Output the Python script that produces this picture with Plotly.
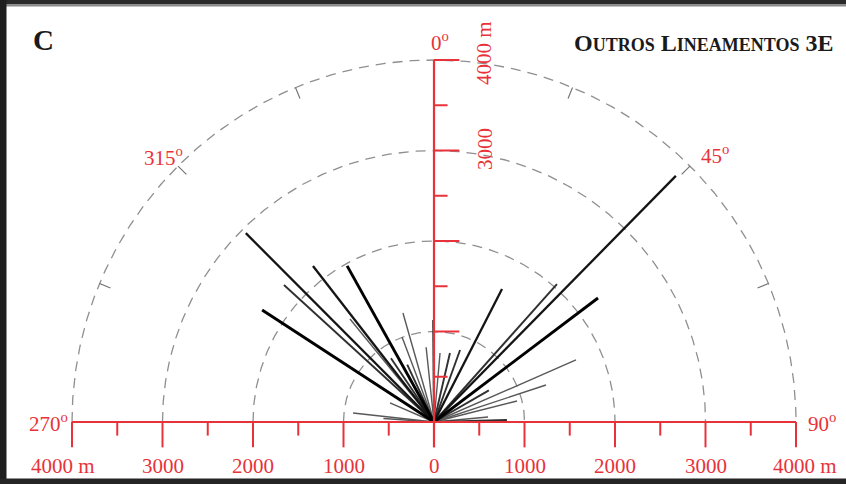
import numpy as np
import plotly.graph_objects as go

# ---------------- data ----------------
# lineament azimuths (degrees, clockwise from N), lengths (m) and relative weight
azimuth  = [315.1, 303.1, 322.2, 330.9, 312.4, 320.8, 344.1, 339.4, 354.0, 359.5,
            276.3, 293.4, 274.0, 335.0, 326.0,
            44.5, 52.9, 41.7, 27.1, 66.4, 71.7, 75.8, 84.7, 88.4, 19.9, 13.0, 5.0, 60.0]
length_m = [2946, 2267, 2182, 1974, 2245, 1469, 1252, 1004, 831, 1127,
            900, 530, 560, 700, 850,
            3813, 2272, 2042, 1650, 1712, 1303, 946, 600, 806, 846, 783, 766, 700]
weight   = [3, 4, 3, 4, 2, 1, 1, 1, 1, 2,
            1, 1, 1, 2, 2,
            3, 4, 2, 3, 1, 1, 1, 1, 2, 2, 2, 1, 2]

ring_radii = [1000, 2000, 3000, 4000]
ring_tick_angles = [-67.5, -45, -22.5, 22.5, 45, 67.5]
scale_major = [-4000, -3000, -2000, -1000, 0, 1000, 2000, 3000, 4000]
scale_minor = [-3500, -2500, -1500, -500, 500, 1500, 2500, 3500]
scale_labels = ["4000 m", "3000", "2000", "1000", "0", "1000", "2000", "3000", "4000 m"]
vert_major = [1000, 2000, 3000, 4000]
vert_minor = [500, 1500, 2500, 3500]
angle_marks = [-90, -45, 0, 45, 90]
angle_labels = ["270", "315", "0", "45", "90"]

RED = "#e8323a"
FONT = "Liberation Serif, Times New Roman, serif"

# pixel geometry helpers (page 846x484, origin at px (434,422), 90.5 px per 1000 m)
W, H = 846, 484
OX, OY, PPK = 434, 422, 90.5
M_PER_PX = 1000 / PPK
x_range = [-OX * M_PER_PX, (W - OX) * M_PER_PX]
y_range = [-(H - OY) * M_PER_PX, OY * M_PER_PX]

fig = go.Figure()

# dashed rings
for r in ring_radii:
    t = np.radians(np.linspace(-90, 90, 361))
    fig.add_trace(go.Scatter(x=r * np.sin(t), y=r * np.cos(t), mode="lines",
                             line=dict(color="#8f8f8f", width=1.3, dash="10px,7px"),
                             hoverinfo="skip", showlegend=False))
# ticks on outer ring
R = ring_radii[-1]
for a in ring_tick_angles:
    t = np.radians(a)
    rr = np.array([R - 130, R])
    fig.add_trace(go.Scatter(x=rr * np.sin(t), y=rr * np.cos(t), mode="lines",
                             line=dict(color="#6e6e6e", width=1.1),
                             hoverinfo="skip", showlegend=False))

# lineaments
style = {1: ("#585858", 1.4), 2: ("#303030", 1.9), 3: ("#141414", 2.3), 4: ("#000000", 2.9)}
order = np.argsort(weight, kind="stable")
for i in order:
    t = np.radians(azimuth[i])
    L = length_m[i]
    c, w = style[weight[i]]
    fig.add_trace(go.Scatter(x=[0, L * np.sin(t)], y=[0, L * np.cos(t)], mode="lines",
                             line=dict(color=c, width=w), hoverinfo="skip", showlegend=False))

# red scale axes
maj_len = 280
min_len = 150
fig.add_trace(go.Scatter(x=[scale_major[0], scale_major[-1]], y=[0, 0], mode="lines",
                         line=dict(color=RED, width=2.2), hoverinfo="skip", showlegend=False))
fig.add_trace(go.Scatter(x=[0, 0], y=[-maj_len, vert_major[-1]], mode="lines",
                         line=dict(color=RED, width=2.2), hoverinfo="skip", showlegend=False))
for v in scale_major:
    fig.add_trace(go.Scatter(x=[v, v], y=[0, -maj_len], mode="lines",
                             line=dict(color=RED, width=2), hoverinfo="skip", showlegend=False))
for v in scale_minor:
    fig.add_trace(go.Scatter(x=[v, v], y=[0, -min_len], mode="lines",
                             line=dict(color=RED, width=2), hoverinfo="skip", showlegend=False))
for v in vert_major:
    fig.add_trace(go.Scatter(x=[0, maj_len], y=[v, v], mode="lines",
                             line=dict(color=RED, width=2), hoverinfo="skip", showlegend=False))
for v in vert_minor:
    fig.add_trace(go.Scatter(x=[0, min_len], y=[v, v], mode="lines",
                             line=dict(color=RED, width=2), hoverinfo="skip", showlegend=False))

ann = []
# horizontal scale labels
for v, lab in zip(scale_major, scale_labels):
    xv = v
    if v == scale_major[0]:
        xv = v - 95
    elif v == scale_major[-1]:
        xv = v + 95
    ann.append(dict(x=xv, y=-490, text=lab, showarrow=False, xanchor="center", yanchor="middle",
                    font=dict(family=FONT, size=21, color=RED)))
# vertical scale labels (rotated)
ann.append(dict(x=555, y=4080, text="4000 m", textangle=-90, showarrow=False,
                xanchor="center", yanchor="middle",
                font=dict(family=FONT, size=21, color=RED)))
ann.append(dict(x=555, y=3020, text="3000", textangle=-90, showarrow=False,
                xanchor="center", yanchor="middle",
                font=dict(family=FONT, size=21, color=RED)))
# angle labels (placed just outside the outer ring, small per-label nudges in px)
nudge_px = {-90: (0, 0), -45: (2, -7), 0: (6, -5), 45: (8, -5), 90: (2, 0)}
for a, lab in zip(angle_marks, angle_labels):
    t = np.radians(a)
    rl = 4260
    dx, dy = nudge_px[a]
    ann.append(dict(x=rl * np.sin(t) + dx * M_PER_PX, y=rl * np.cos(t) + dy * M_PER_PX,
                    text=lab + "<sup>o</sup>", showarrow=False,
                    xanchor="center", yanchor="middle",
                    font=dict(family=FONT, size=21, color=RED)))
# titles
ann.append(dict(xref="paper", yref="paper", x=43 / W, y=1 - 40 / H, text="<b>C</b>",
                xanchor="center", yanchor="middle",
                showarrow=False, font=dict(family=FONT, size=29, color="#1a1a1a")))
small = "font-size:18px"
ann.append(dict(xref="paper", yref="paper", x=835 / W, y=1 - 43 / H, xanchor="right",
                yanchor="middle",
                text=("<b>O<span style='%s'>UTROS</span> L<span style='%s'>INEAMENTOS</span> 3E</b>"
                      % (small, small)),
                showarrow=False, font=dict(family=FONT, size=24, color="#1a1a1a")))

# dark frame around the slide
shapes = [
    dict(type="rect", xref="paper", yref="paper", x0=0, x1=1, y0=1 - 4.5 / H, y1=1,
         fillcolor="#2a2a2a", line=dict(width=0), layer="above"),
    dict(type="rect", xref="paper", yref="paper", x0=0, x1=1, y0=1 - 6.5 / H, y1=1 - 4.5 / H,
         fillcolor="#8a8a8a", line=dict(width=0), layer="above"),
    dict(type="rect", xref="paper", yref="paper", x0=0, x1=6.5 / W, y0=0, y1=1,
         fillcolor="#1e1e1e", line=dict(width=0), layer="above"),
    dict(type="rect", xref="paper", yref="paper", x0=0, x1=1, y0=0, y1=5.5 / H,
         fillcolor="#252525", line=dict(width=0), layer="above"),
]

fig.update_layout(
    width=W, height=H, margin=dict(l=0, r=0, t=0, b=0),
    paper_bgcolor="white", plot_bgcolor="white",
    xaxis=dict(range=x_range, visible=False, fixedrange=True),
    yaxis=dict(range=y_range, visible=False, fixedrange=True),
    annotations=ann, shapes=shapes, showlegend=False,
)
fig.write_html("out.html")
